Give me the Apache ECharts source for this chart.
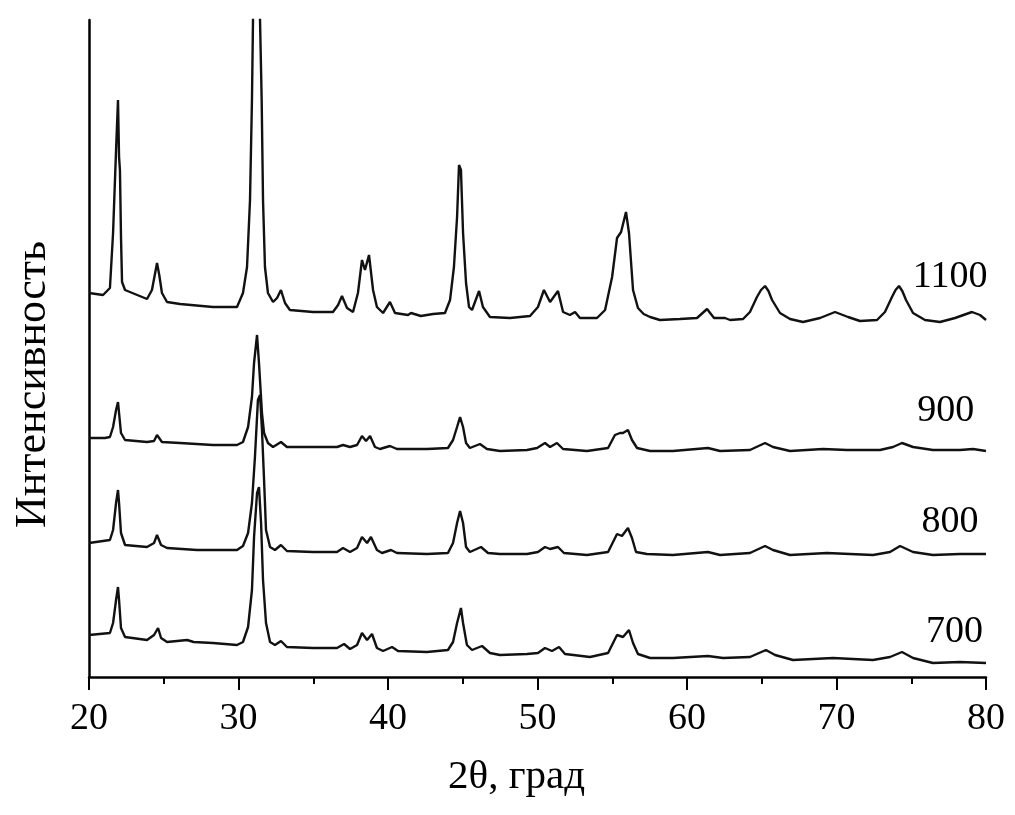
<!DOCTYPE html>
<html>
<head>
<meta charset="utf-8">
<script src="https://cdn.jsdelivr.net/npm/echarts@6/dist/echarts.min.js"></script>
<style>
  html, body { margin: 0; padding: 0; background: #fff; }
  #chart { width: 1015px; height: 815px; }
</style>
</head>
<body>
<div id="chart"></div>
<script>
// Sample temperatures (°C) labelling each diffractogram
const temps = ['700', '800', '900', '1100'];
// X axis tick labels (2θ, deg)
const xTicks = [20, 30, 40, 50, 60, 70, 80];

// Diffractograms: [2θ, intensity (arb. units, vertically offset)]
const xrd1100 = [
  [20.00,384],[20.94,382],[21.40,389],[21.61,444],[21.81,527],[21.94,577],[22.01,520],[22.07,507],
  [22.14,440],[22.21,395],[22.41,387],[23.88,378],[24.21,387],[24.40,402],[24.55,414],[24.70,402],[24.88,384],[25.22,375],
  [26.09,373],[28.29,370],[29.90,370],[30.30,384],[30.57,410],[30.77,477],[30.90,577],[30.97,657],
  [31.20,870],[31.44,657],[31.55,577],[31.64,477],[31.77,410],[31.97,384],[32.31,375],[32.58,379],
  [32.84,387],[33.11,374],[33.44,367],[34.98,365],[36.32,365],[36.66,372],[36.92,381],[37.26,369],
  [37.66,365],[37.99,384],[38.26,417],[38.46,407],[38.73,422],[39.00,387],[39.26,370],[39.67,364],
  [40.13,375],[40.47,364],[41.34,362],[41.54,364],[42.20,361],[43.01,363],[43.81,364],[44.15,377],
  [44.41,410],[44.62,460],[44.75,512],[44.88,507],[45.02,444],[45.22,394],[45.42,370],[45.62,367],
  [46.09,386],[46.35,370],[46.82,360],[48.16,359],[49.50,361],[50.03,370],[50.43,387],[50.84,375],
  [51.37,386],[51.71,365],[52.17,362],[52.51,365],[52.84,359],[53.98,359],[54.52,367],[54.99,400],
  [55.32,439],[55.59,445],[55.92,465],[56.12,444],[56.39,387],[56.72,369],[57.10,363],[57.53,360],[58.19,357],
  [59.53,358],[60.67,359],[61.34,368],[61.81,359],[62.54,359],[62.88,357],[63.75,358],[64.21,365],
  [64.68,380],[64.95,387],[65.22,391],[65.45,386],[65.69,377],[66.22,364],[66.89,358],[67.76,355],[68.90,359],[69.90,365],
  [70.77,360],[71.57,356],[72.71,357],[73.24,365],[73.71,380],[73.95,387],[74.18,391],[74.40,386],[74.65,377],[75.12,364],
  [75.92,357],[76.92,355],[77.93,359],[79.06,365],[79.60,362],[80.00,357]
];
const xrd900 = [
  [20.00,239],[21.07,239],[21.40,240],[21.61,250],[21.81,267],[21.94,275],[22.01,264],[22.14,244],
  [22.41,237],[23.88,235],[24.35,236],[24.55,242],[24.88,235],[26.09,234],[28.29,232],[29.90,232],
  [30.30,235],[30.64,250],[30.90,280],[31.04,314],[31.24,342],[31.37,314],[31.57,264],[31.71,244],
  [31.97,234],[32.31,230],[32.84,235],[33.24,230],[34.98,230],[36.59,230],[36.99,232],[37.46,230],
  [37.93,232],[38.26,241],[38.53,236],[38.80,241],[39.13,230],[39.46,228],[40.13,231],[40.60,228],
  [42.61,228],[44.01,229],[44.35,237],[44.62,250],[44.82,260],[45.02,250],[45.22,234],[45.48,229],
  [46.15,233],[46.62,228],[47.49,226],[49.30,227],[49.97,229],[50.50,234],[50.84,230],[51.30,234],
  [51.71,228],[53.31,226],[54.72,229],[55.18,242],[55.52,244],[55.72,244],[56.05,247],[56.32,237],
  [56.66,229],[57.53,226],[59.06,226],[61.40,229],[62.21,226],[64.21,227],[65.22,234],[65.75,230],
  [66.89,226],[69.10,228],[70.70,227],[72.91,227],[73.78,230],[74.38,234],[75.12,230],[76.45,227],
  [78.26,227],[79.13,228],[80.00,226]
];
const xrd800 = [
  [20.00,134],[21.40,137],[21.61,147],[21.81,174],[21.94,187],[22.01,174],[22.14,144],[22.41,132],
  [23.88,130],[24.35,134],[24.55,142],[24.82,132],[25.22,129],[27.22,127],[29.90,127],[30.30,131],
  [30.64,144],[30.90,174],[31.10,220],[31.30,277],[31.44,282],[31.57,247],[31.71,197],[31.84,147],
  [32.11,130],[32.44,127],[32.84,132],[33.24,126],[34.98,125],[36.59,125],[36.99,129],[37.46,125],
  [37.93,129],[38.26,140],[38.60,134],[38.86,140],[39.26,127],[39.60,124],[40.20,127],[40.60,124],
  [42.61,123],[44.01,124],[44.35,134],[44.62,154],[44.82,166],[45.02,154],[45.22,130],[45.48,125],
  [46.22,130],[46.69,124],[47.49,123],[49.30,123],[50.03,125],[50.50,130],[50.84,128],[51.37,130],
  [51.77,124],[53.31,122],[54.72,125],[55.32,143],[55.65,141],[56.05,149],[56.32,139],[56.59,125],
  [57.32,123],[59.06,122],[61.40,125],[62.21,122],[64.21,124],[65.22,131],[65.75,127],[66.89,122],
  [69.36,124],[72.44,122],[73.58,125],[74.25,131],[75.12,125],[76.45,122],[78.26,123],[80.00,123]
];
const xrd700 = [
  [20.00,42],[21.40,44],[21.61,54],[21.81,77],[21.94,90],[22.01,77],[22.14,49],[22.41,40],
  [23.88,37],[24.35,42],[24.62,49],[24.82,39],[25.22,35],[26.56,37],[27.00,35],[28.29,34],
  [29.90,32],[30.30,35],[30.64,50],[30.90,87],[31.04,140],[31.24,184],[31.37,190],[31.51,154],
  [31.64,97],[31.84,54],[32.11,35],[32.44,32],[32.84,36],[33.24,30],[34.98,29],[36.59,29],
  [37.06,33],[37.46,28],[37.93,32],[38.26,44],[38.60,37],[38.93,43],[39.26,29],[39.67,26],
  [40.27,30],[40.67,26],[42.61,25],[44.01,27],[44.35,35],[44.62,54],[44.88,69],[45.02,54],
  [45.28,32],[45.62,27],[46.29,31],[46.82,24],[47.49,22],[49.30,23],[50.03,24],[50.50,29],
  [50.97,26],[51.44,30],[51.84,23],[53.51,20],[54.72,24],[55.32,42],[55.72,40],[56.12,47],
  [56.39,34],[56.72,23],[57.53,19],[59.06,19],[61.40,21],[62.41,19],[64.21,20],[65.28,27],
  [65.89,22],[67.09,17],[69.77,19],[72.44,17],[73.58,20],[74.38,25],[75.12,19],[76.45,14],
  [78.26,15],[80.00,14]
];

const curves = [xrd700, xrd800, xrd900, xrd1100];
// label anchors in data space (2θ, intensity)
const labelAnchors = [[77.9, 45], [77.6, 155], [77.3, 266], [77.6, 400]];

const FONT = '"Liberation Serif", "Times New Roman", serif';
const INK = '#000';

const chart = echarts.init(document.getElementById('chart'), null, { renderer: 'canvas' });

const series = curves.map((d, i) => ({
  type: 'line',
  name: temps[i],
  data: d,
  showSymbol: false,
  symbol: 'none',
  clip: true,
  lineStyle: { color: '#111', width: 2.4 },
  markPoint: {
    symbol: 'circle',
    symbolSize: 1,
    itemStyle: { color: 'rgba(0,0,0,0)' },
    label: {
      show: true,
      position: 'inside',
      formatter: temps[i],
      fontFamily: FONT,
      fontSize: 38,
      color: INK
    },
    data: [{ coord: labelAnchors[i] }]
  }
}));

chart.setOption({
  animation: false,
  backgroundColor: '#fff',
  grid: { left: 89, right: 29, top: 20, bottom: 138, containLabel: false },
  xAxis: {
    type: 'value',
    min: xTicks[0],
    max: xTicks[xTicks.length - 1],
    interval: 10,
    name: '2θ, град',
    nameLocation: 'middle',
    nameGap: 80,
    nameTextStyle: { fontFamily: FONT, fontSize: 41, color: INK, padding: [0, 42, 0, 0] },
    axisLine: { show: true, lineStyle: { color: INK, width: 2.5 } },
    axisTick: { show: true, length: 13, lineStyle: { color: INK, width: 2 } },
    minorTick: { show: true, splitNumber: 2, length: 7, lineStyle: { color: INK, width: 2 } },
    axisLabel: { fontFamily: FONT, fontSize: 38, color: INK, margin: 23 },
    splitLine: { show: false }
  },
  yAxis: {
    type: 'value',
    min: 0,
    max: 657,
    name: 'Интенсивность',
    nameLocation: 'middle',
    nameRotate: 90,
    nameGap: 34,
    nameTextStyle: { fontFamily: FONT, fontSize: 44, color: INK, padding: [0, 72, 0, 0] },
    axisLine: { show: true, lineStyle: { color: INK, width: 2.5 } },
    axisTick: { show: false },
    axisLabel: { show: false },
    splitLine: { show: false }
  },
  series: series
});
</script>
</body>
</html>
